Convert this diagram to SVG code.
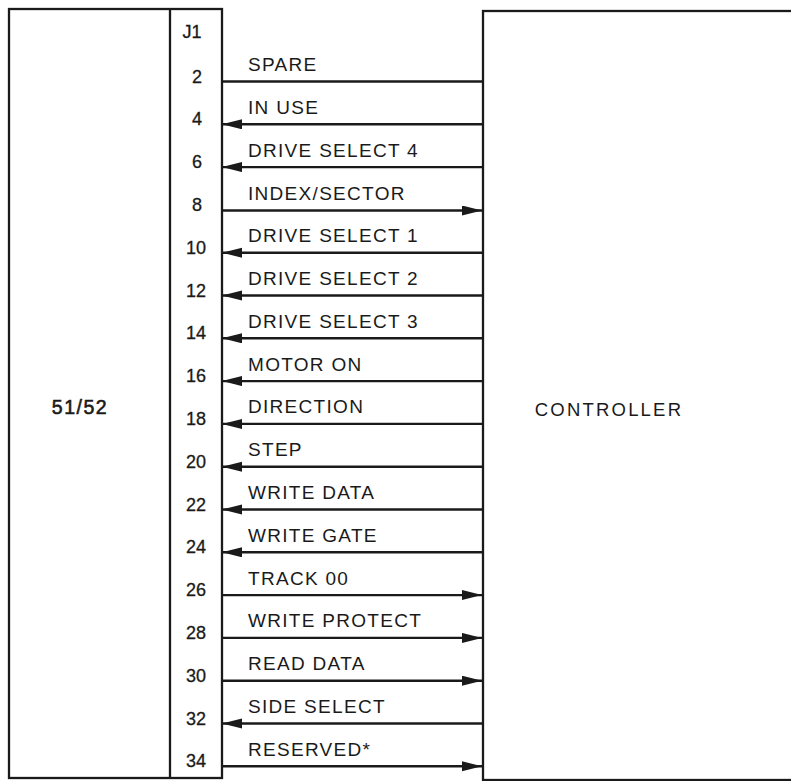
<svg xmlns="http://www.w3.org/2000/svg" width="791" height="781" viewBox="0 0 791 781">
<style>
.box{fill:none;stroke:#1a1a1a;stroke-width:2.3}
.sig{stroke:#1a1a1a;stroke-width:2.4;fill:none}
.lbl{font-family:"Liberation Sans",Arial,sans-serif;font-size:19px;letter-spacing:1.3px;fill:#1a1a1a}
.pin{font-family:"Liberation Sans",Arial,sans-serif;font-size:18px;fill:#1a1a1a;text-anchor:middle;stroke:#1a1a1a;stroke-width:0.3}
.big{font-family:"Liberation Sans",Arial,sans-serif;font-size:18.5px;letter-spacing:2.2px;fill:#1a1a1a;text-anchor:middle}
</style>
<defs>
<marker id="ah" markerUnits="userSpaceOnUse" markerWidth="22" markerHeight="12" refX="20" refY="5" orient="auto">
<path d="M0,0 L20,5 L0,10 z" fill="#1a1a1a"/>
</marker>
</defs>
<rect width="791" height="781" fill="#fff"/>
<g id="drive">
<rect class="box" x="9" y="9" width="213" height="769"/>
<line class="box" x1="170" y1="9" x2="170" y2="778"/>
<text x="80" y="414" font-family="Liberation Sans, Arial, sans-serif" font-size="19.5" letter-spacing="1.5" text-anchor="middle" fill="#1a1a1a" stroke="#1a1a1a" stroke-width="0.6">51/52</text>
</g>
<g id="j1">
<text class="pin" x="192" y="38">J1</text>
<text class="pin" x="197" y="83">2</text>
<text class="pin" x="197" y="125">4</text>
<text class="pin" x="197" y="168">6</text>
<text class="pin" x="197" y="211">8</text>
<text class="pin" x="196" y="254">10</text>
<text class="pin" x="196" y="297">12</text>
<text class="pin" x="196" y="339">14</text>
<text class="pin" x="196" y="382">16</text>
<text class="pin" x="196" y="425">18</text>
<text class="pin" x="196" y="468">20</text>
<text class="pin" x="196" y="511">22</text>
<text class="pin" x="196" y="553">24</text>
<text class="pin" x="196" y="596">26</text>
<text class="pin" x="196" y="639">28</text>
<text class="pin" x="196" y="682">30</text>
<text class="pin" x="196" y="725">32</text>
<text class="pin" x="196" y="767">34</text>
</g>
<g id="controller">
<rect class="box" x="483" y="11" width="320" height="769"/>
<text class="big" x="609" y="416">CONTROLLER</text>
</g>
<g id="connectors">
<line class="sig" x1="222" y1="81.5" x2="483" y2="81.5"/>
<line class="sig" x1="483" y1="124.3" x2="222" y2="124.3" marker-end="url(#ah)"/>
<line class="sig" x1="483" y1="167.1" x2="222" y2="167.1" marker-end="url(#ah)"/>
<line class="sig" x1="222" y1="210.5" x2="482" y2="210.5" marker-end="url(#ah)"/>
<line class="sig" x1="483" y1="252.7" x2="222" y2="252.7" marker-end="url(#ah)"/>
<line class="sig" x1="483" y1="295.5" x2="222" y2="295.5" marker-end="url(#ah)"/>
<line class="sig" x1="483" y1="338.3" x2="222" y2="338.3" marker-end="url(#ah)"/>
<line class="sig" x1="483" y1="381.1" x2="222" y2="381.1" marker-end="url(#ah)"/>
<line class="sig" x1="483" y1="423.9" x2="222" y2="423.9" marker-end="url(#ah)"/>
<line class="sig" x1="483" y1="466.7" x2="222" y2="466.7" marker-end="url(#ah)"/>
<line class="sig" x1="483" y1="509.5" x2="222" y2="509.5" marker-end="url(#ah)"/>
<line class="sig" x1="483" y1="552.3" x2="222" y2="552.3" marker-end="url(#ah)"/>
<line class="sig" x1="222" y1="595.1" x2="482" y2="595.1" marker-end="url(#ah)"/>
<line class="sig" x1="222" y1="637.9" x2="482" y2="637.9" marker-end="url(#ah)"/>
<line class="sig" x1="222" y1="680.7" x2="482" y2="680.7" marker-end="url(#ah)"/>
<line class="sig" x1="483" y1="723.5" x2="222" y2="723.5" marker-end="url(#ah)"/>
<line class="sig" x1="222" y1="766.3" x2="482" y2="766.3" marker-end="url(#ah)"/>
<text class="lbl" x="248" y="71">SPARE</text>
<text class="lbl" x="248" y="114">IN USE</text>
<text class="lbl" x="248" y="157">DRIVE SELECT 4</text>
<text class="lbl" x="248" y="200">INDEX/SECTOR</text>
<text class="lbl" x="248" y="242">DRIVE SELECT 1</text>
<text class="lbl" x="248" y="285">DRIVE SELECT 2</text>
<text class="lbl" x="248" y="328">DRIVE SELECT 3</text>
<text class="lbl" x="248" y="371">MOTOR ON</text>
<text class="lbl" x="248" y="413">DIRECTION</text>
<text class="lbl" x="248" y="456">STEP</text>
<text class="lbl" x="248" y="499">WRITE DATA</text>
<text class="lbl" x="248" y="542">WRITE GATE</text>
<text class="lbl" x="248" y="585">TRACK 00</text>
<text class="lbl" x="248" y="627">WRITE PROTECT</text>
<text class="lbl" x="248" y="670">READ DATA</text>
<text class="lbl" x="248" y="713">SIDE SELECT</text>
<text class="lbl" x="248" y="756">RESERVED*</text>
</g>
</svg>
